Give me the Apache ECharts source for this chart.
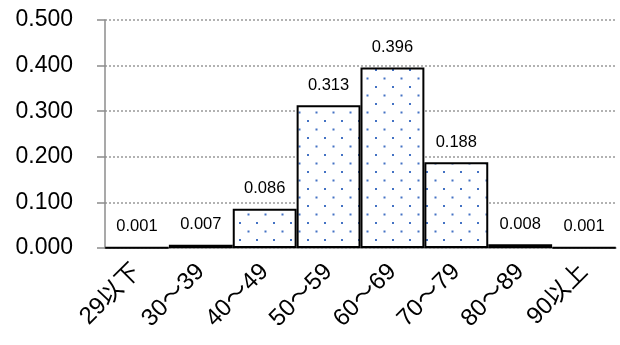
<!DOCTYPE html>
<html>
<head>
<meta charset="utf-8">
<script src="https://cdn.jsdelivr.net/npm/echarts@6/dist/echarts.min.js"></script>
<style>
  html, body { margin: 0; padding: 0; background: #fff; }
  #chart { width: 620px; height: 345px; }
</style>
</head>
<body>
<div id="chart"></div>
<script>
// 年齢階級
const categories = ['29以下', '30～39', '40～49', '50～59', '60～69', '70～79', '80～89', '90以上']
// 相対度数
const ratios = [0.001, 0.007, 0.086, 0.313, 0.396, 0.188, 0.008, 0.001]
const yTicks = [0, 0.1, 0.2, 0.3, 0.4, 0.5]

// 点々の塗りつぶし
const tile = document.createElement('canvas')
tile.width = 17
tile.height = 17
const ctx = tile.getContext('2d')
ctx.fillStyle = '#ffffff'
ctx.fillRect(0, 0, 17, 17)
ctx.fillStyle = '#4472c4'
ctx.fillRect(1, 1, 2, 2)
ctx.fillRect(9.5, 9.5, 2, 2)

const font = '"Liberation Sans", "Noto Sans CJK JP", sans-serif'
const chart = echarts.init(document.getElementById('chart'))
chart.setOption({
  animation: false,
  grid: { left: 105, right: 4, top: 20, bottom: 97 },
  xAxis: {
    type: 'category',
    data: categories,
    axisLine: { lineStyle: { color: '#8c8c8c', width: 1.5 } },
    axisTick: { length: 8, lineStyle: { color: '#8c8c8c', width: 1.5 } },
    axisLabel: {
      rotate: 45, margin: 20, color: '#000', fontSize: 24, fontFamily: font
    }
  },
  yAxis: {
    type: 'value',
    min: yTicks[0],
    max: yTicks[yTicks.length - 1],
    interval: 0.1,
    axisLine: { show: true, lineStyle: { color: '#8c8c8c', width: 1.5 } },
    axisTick: { show: true, length: 8, lineStyle: { color: '#8c8c8c', width: 1.5 } },
    splitLine: { lineStyle: { color: '#999', type: [2, 2], width: 1.5 } },
    axisLabel: {
      margin: 32, color: '#000', fontSize: 23, fontFamily: font,
      formatter: v => v.toFixed(3)
    }
  },
  series: [{
    type: 'bar',
    data: ratios,
    barCategoryGap: 0,
    itemStyle: {
      color: { image: tile, repeat: 'repeat' },
      borderColor: '#000',
      borderWidth: 2
    },
    label: {
      show: true, position: 'top', distance: 12,
      color: '#000', fontSize: 16.5, fontFamily: font,
      formatter: p => p.value.toFixed(3)
    }
  }]
})
</script>
</body>
</html>
